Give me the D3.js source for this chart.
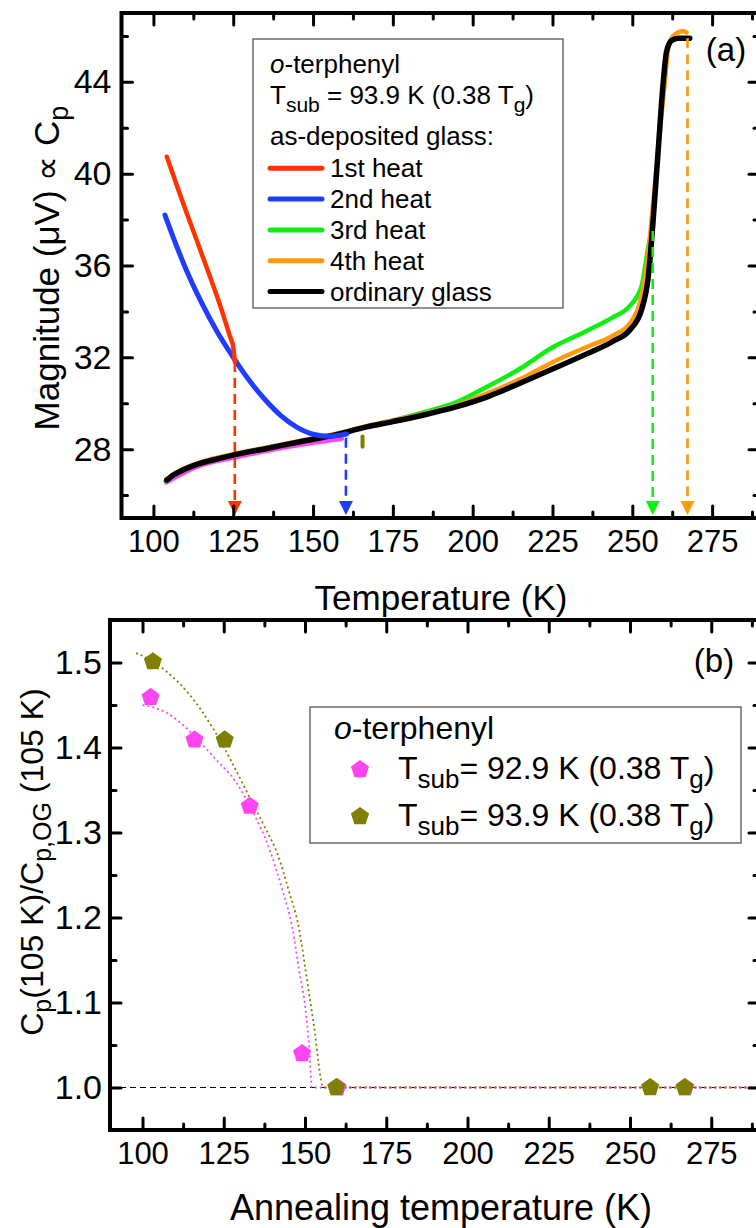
<!DOCTYPE html>
<html><head><meta charset="utf-8">
<script src="https://cdn.jsdelivr.net/npm/d3@7"></script>
<style>
body{margin:0;background:#fff}
svg{display:block}
text{font-family:"Liberation Sans",Arial,Helvetica,sans-serif;fill:#000}
</style>
</head><body>
<svg id="c" width="756" height="1228"></svg>
<script>
// ---------- DATA: panel (a) ----------
const xTicksMajor = [100,125,150,175,200,225,250,275];
const xTicksMinor = [112.5,137.5,162.5,187.5,212.5,237.5,262.5,287.5];
const yTicksA = [28,32,36,40,44];
const yTicksAMinor = [26,30,34,38,42,46];
const heat1 = [[104.2,40.74],[108.3,39.1],[112.5,37.5],[116.7,35.9],[120.8,34.3],[124,32.9],[125,32.45],[125.5,31.8]];
const heat2 = [[103.6,38.2],[106,37.3],[110,35.9],[115,34.4],[120,33.1],[125,32.0],[130,31.0],[135,30.15],[140,29.45],[145,28.95],[150,28.65],[155,28.56],[160.5,28.66]];
const heat3 = [[103.8,26.6],[109.4,27.12],[114.6,27.4],[125,27.75],[135.5,28.05],[145.9,28.33],[156.3,28.62],[166.8,28.98],[175,29.25],[185,29.62],[195,30.05],[205,30.75],[214.8,31.5],[225.2,32.45],[235.7,33.15],[244,33.75],[249.3,34.25],[252.9,35.1],[255,36.8],[256,37.5]];
const heat4 = [[104,26.68],[109.4,27.14],[114.6,27.42],[125,27.78],[135.5,28.07],[145.9,28.36],[156.3,28.64],[166.8,29.0],[175,29.25],[185,29.55],[195,29.92],[205,30.45],[214.8,31.05],[225.2,31.8],[235.7,32.45],[244,32.95],[249.3,33.5],[252.4,34.4],[254.5,35.9],[256.6,38.8],[258.6,41.8],[260.2,44.0],[261.2,45.4],[262.8,46.0],[265.9,46.2],[267,46.15]];
const ordinary = [[104.2,26.65],[106,26.85],[109.4,27.1],[114.6,27.38],[120,27.57],[125,27.74],[135.5,28.03],[145.9,28.32],[156.3,28.6],[166.8,28.97],[175,29.2],[185,29.5],[195,29.85],[205,30.3],[214.8,30.87],[225.2,31.5],[235.7,32.15],[244,32.7],[249.3,33.2],[252.9,34.07],[255,35.5],[256.6,38.1],[258.1,41.0],[259.7,44.0],[260.7,45.3],[262.3,45.8],[264.4,45.9],[268,45.9]];
const otherRun = [[104,26.55],[115,27.3],[125,27.62],[140,28.05],[159,28.45]];
const otherFrag = [[165.5,28.55],[165.5,28.1]];
const arrowT = [125.5,160.3,256.4,267.3];
const arrowFrom = [31.8,28.5,37.5,45.9];
const arrowColor = ["#ff3300","#1f3cff","#11ee11","#ff9a0a"];
const seriesNames = ["1st heat","2nd heat","3rd heat","4th heat","ordinary glass"];
const seriesColors = ["#ff3300","#1f3cff","#11ee11","#ff9a0a","#000000"];

// ---------- DATA: panel (b) ----------
const yTicksB = [1.0,1.1,1.2,1.3,1.4,1.5];
const yTicksBMinor = [1.05,1.15,1.25,1.35,1.45];
const s929T = [102.5,116,133,149.1,160,267];
const s929R = [1.459,1.409,1.331,1.040,1.0,1.0];
const s939T = [103.2,125.3,159.6,256.2,266.8];
const s939R = [1.501,1.409,1.0,1.0,1.0];
const fit929 = [[100,1.45],[107.8,1.44],[114.3,1.42],[122.1,1.388],[128.6,1.36],[133.9,1.325],[139,1.281],[143,1.233],[146.2,1.186],[148.2,1.138],[150.1,1.094],[151.4,1.042],[152.1,1.0],[290,1.0]];
const fit939 = [[98,1.511],[103,1.502],[107.8,1.488],[114.3,1.463],[122.1,1.42],[127.3,1.384],[132.6,1.344],[137.8,1.305],[141.7,1.273],[144.9,1.233],[148.2,1.186],[150.1,1.14],[152.7,1.074],[155.7,1.0],[290,1.0]];
const col929 = "#ff45f0", col939 = "#808000";

// ---------- DRAW ----------
const svg = d3.select("#c");
svg.append("rect").attr("width",756).attr("height",1228).attr("fill","#fff");

const xA = d3.scaleLinear([90,290],[121.5,760]);
const yA = d3.scaleLinear([25,47],[518,13]);
const xB = d3.scaleLinear([90,290],[110,760]);
const yB = d3.scaleLinear([0.95,1.55],[1130,620]);

function axes(g, x, y, yMaj, yMin, yFmt, yPad){
  const [x0,x1] = x.range(), [yb,yt] = y.range();
  const add = (axis, tr, cls) => g.append("g").attr("class","ax "+(cls||"")).attr("transform",tr).call(axis).call(s=>s.select(".domain").remove());
  add(d3.axisBottom(x).tickValues(xTicksMajor).tickSizeInner(-12).tickSizeOuter(0).tickPadding(12).tickFormat(d3.format("d")),`translate(0,${yb})`,"xl");
  add(d3.axisBottom(x).tickValues(xTicksMinor).tickSizeInner(-6).tickSizeOuter(0).tickFormat(""),`translate(0,${yb})`);
  add(d3.axisTop(x).tickValues(xTicksMajor).tickSizeInner(-12).tickSizeOuter(0).tickFormat(""),`translate(0,${yt})`);
  add(d3.axisTop(x).tickValues(xTicksMinor).tickSizeInner(-6).tickSizeOuter(0).tickFormat(""),`translate(0,${yt})`);
  add(d3.axisLeft(y).tickValues(yMaj).tickSizeInner(-11).tickSizeOuter(0).tickPadding(yPad).tickFormat(yFmt),`translate(${x0},0)`,"yl");
  add(d3.axisLeft(y).tickValues(yMin).tickSizeInner(-6).tickSizeOuter(0).tickFormat(""),`translate(${x0},0)`);
  add(d3.axisRight(y).tickValues(yMaj).tickSizeInner(-11).tickSizeOuter(0).tickFormat(""),`translate(${x1},0)`);
  add(d3.axisRight(y).tickValues(yMin).tickSizeInner(-6).tickSizeOuter(0).tickFormat(""),`translate(${x1},0)`);
  g.selectAll(".ax line").attr("stroke","#000").attr("stroke-width",3).attr("stroke-linecap","round");
  g.selectAll(".ax text").attr("font-family",'"Liberation Sans",Arial,sans-serif').attr("fill","#000");
  g.selectAll(".xl text").attr("font-size",31);
  g.selectAll(".yl text").attr("font-size",34);
  g.append("rect").attr("x",x0).attr("y",yt).attr("width",x1-x0).attr("height",yb-yt)
    .attr("fill","none").attr("stroke","#000").attr("stroke-width",4);
}

// ---- panel (a)
const gA = svg.append("g");
const lineA = d3.line().x(d=>xA(d[0])).y(d=>yA(d[1])).curve(d3.curveMonotoneX);
const plotLine = (g,data,color,w,gen)=>g.append("path").datum(data).attr("d",gen).attr("fill","none")
  .attr("stroke",color).attr("stroke-width",w).attr("stroke-linecap","round").attr("stroke-linejoin","round");
plotLine(gA,otherRun,col929,4.5,lineA);
plotLine(gA,heat3,seriesColors[2],4.5,lineA);
plotLine(gA,heat4,seriesColors[3],4.5,lineA);
plotLine(gA,otherFrag,col939,4,d3.line().x(d=>xA(d[0])).y(d=>yA(d[1])));
plotLine(gA,ordinary,seriesColors[4],5.5,lineA);
plotLine(gA,heat2,seriesColors[1],5,lineA);
plotLine(gA,heat1,seriesColors[0],4.5,lineA);

// arrows
arrowT.forEach((t,i)=>{
  const px = xA(t), yb = yA.range()[0];
  gA.append("line").attr("x1",px).attr("x2",px).attr("y1",yA(arrowFrom[i])).attr("y2",yb-16)
    .attr("stroke",arrowColor[i]).attr("stroke-width",2.6).attr("stroke-dasharray","10,6");
  gA.append("path").attr("d",`M${px-7},${yb-17}L${px+7},${yb-17}L${px},${yb-3}Z`).attr("fill",arrowColor[i]);
});

axes(gA,xA,yA,yTicksA,yTicksAMinor,d3.format("d"),10);

// legend (a)
const lgA = gA.append("g");
lgA.append("rect").attr("x",253).attr("y",39).attr("width",310).attr("height",269)
  .attr("fill","#fff").attr("stroke","#555").attr("stroke-width",1.3);
const t1 = lgA.append("text").attr("x",270).attr("y",73).attr("font-size",26);
t1.append("tspan").attr("font-style","italic").text("o");
t1.append("tspan").text("-terphenyl");
const t2 = lgA.append("text").attr("x",270).attr("y",104).attr("font-size",26);
t2.append("tspan").text("T");
t2.append("tspan").attr("font-size",21).attr("dy",8).text("sub");
t2.append("tspan").attr("dy",-8).text(" = 93.9 K (0.38 T");
t2.append("tspan").attr("font-size",21).attr("dy",8).text("g");
t2.append("tspan").attr("dy",-8).text(")");
lgA.append("text").attr("x",270).attr("y",145).attr("font-size",26).text("as-deposited glass:");
seriesNames.forEach((n,i)=>{
  const yy = 168.3 + i*30.8;
  lgA.append("line").attr("x1",270).attr("x2",322).attr("y1",yy).attr("y2",yy)
    .attr("stroke",seriesColors[i]).attr("stroke-width",5).attr("stroke-linecap","round");
  lgA.append("text").attr("x",330).attr("y",yy+9).attr("font-size",26).text(n);
});
gA.append("text").attr("x",726).attr("y",61).attr("font-size",33).attr("text-anchor","middle").text("(a)");

// axis titles (a)
gA.append("text").attr("x",441).attr("y",610).attr("font-size",35).attr("text-anchor","middle").text("Temperature (K)");
const yt = gA.append("text").attr("transform","translate(59,268) rotate(-90)").attr("font-size",35).attr("text-anchor","middle");
yt.append("tspan").text("Magnitude (μV) ∝ C");
yt.append("tspan").attr("font-size",27).attr("dy",9).text("p");

// ---- panel (b)
const gB = svg.append("g");
gB.append("line").attr("x1",xB.range()[0]).attr("x2",xB.range()[1]).attr("y1",yB(1)).attr("y2",yB(1))
  .attr("stroke","#000").attr("stroke-width",1.2).attr("stroke-dasharray","6,4");
const lineB = d3.line().x(d=>xB(d[0])).y(d=>yB(d[1])).curve(d3.curveMonotoneX);
gB.append("path").datum(fit929).attr("d",lineB).attr("fill","none").attr("stroke",col929).attr("stroke-width",1.8).attr("stroke-dasharray","2,3");
gB.append("path").datum(fit939).attr("d",lineB).attr("fill","none").attr("stroke",col939).attr("stroke-width",1.8).attr("stroke-dasharray","2,3");

const pentagon = {draw(ctx,size){const r=Math.sqrt(size/2.378);for(let i=0;i<5;i++){const a=-Math.PI/2+i*2*Math.PI/5;const px=r*Math.cos(a),py=r*Math.sin(a);i?ctx.lineTo(px,py):ctx.moveTo(px,py);}ctx.closePath();}};
const sym = d3.symbol().type(pentagon).size(215);
gB.selectAll(".p929").data(s929T).join("path").attr("d",sym)
  .attr("transform",(d,i)=>`translate(${xB(d)},${yB(s929R[i])})`).attr("fill",col929);
gB.selectAll(".p939").data(s939T).join("path").attr("d",sym)
  .attr("transform",(d,i)=>`translate(${xB(d)},${yB(s939R[i])})`).attr("fill",col939);

axes(gB,xB,yB,yTicksB,yTicksBMinor,d3.format(".1f"),8);

// legend (b)
const lgB = gB.append("g");
lgB.append("rect").attr("x",310).attr("y",707).attr("width",431).attr("height",136)
  .attr("fill","none").attr("stroke","#555").attr("stroke-width",1.3);
const b1 = lgB.append("text").attr("x",334).attr("y",739).attr("font-size",32);
b1.append("tspan").attr("font-style","italic").text("o");
b1.append("tspan").text("-terphenyl");
[["92.9",col929],["93.9",col939]].forEach((r,i)=>{
  const yy = 769.5 + i*47;
  lgB.append("path").attr("d",sym).attr("transform",`translate(360,${yy})`).attr("fill",r[1]);
  const t = lgB.append("text").attr("x",398).attr("y",yy+9).attr("font-size",32);
  t.append("tspan").text("T");
  t.append("tspan").attr("font-size",26).attr("dy",9).text("sub");
  t.append("tspan").attr("dy",-9).text(`= ${r[0]} K (0.38 T`);
  t.append("tspan").attr("font-size",26).attr("dy",9).text("g");
  t.append("tspan").attr("dy",-9).text(")");
});
gB.append("text").attr("x",714).attr("y",672).attr("font-size",33).attr("text-anchor","middle").text("(b)");

gB.append("text").attr("x",441).attr("y",1220).attr("font-size",36).attr("text-anchor","middle").text("Annealing temperature (K)");
const ybt = gB.append("text").attr("transform","translate(43,862) rotate(-90)").attr("font-size",32).attr("text-anchor","middle");
ybt.append("tspan").text("C");
ybt.append("tspan").attr("font-size",25).attr("dy",8).text("p");
ybt.append("tspan").attr("dy",-8).text("(105 K)/C");
ybt.append("tspan").attr("font-size",25).attr("dy",8).text("p,OG");
ybt.append("tspan").attr("dy",-8).text(" (105 K)");
</script>
</body></html>
